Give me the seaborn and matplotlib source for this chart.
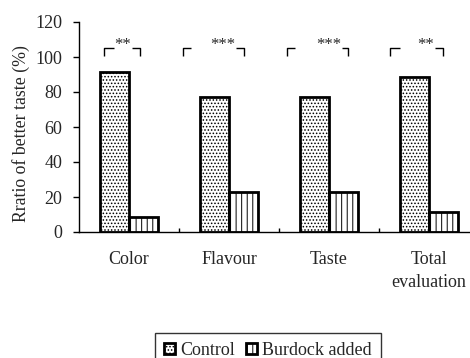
import matplotlib
matplotlib.use("Agg")
import matplotlib.pyplot as plt
import seaborn as sns
import pandas as pd
from matplotlib.patches import Patch

categories = ["Color", "Flavour", "Taste", "Total\nevaluation"]
groups = ["Control", "Burdock added"]
control = [91.5, 77, 77, 88.8]
burdock = [8.8, 23, 23, 11.4]
stars = ["**", "***", "***", "**"]
yticks = [0, 20, 40, 60, 80, 100, 120]
ylabel = "Rratio of better taste (%)"

# bracket layout (offsets from category centre, in category units)
br_left = [-0.25, -0.46, -0.42, -0.39]
br_left_end = [-0.15, -0.38, -0.34, -0.29]
br_star = [-0.06, -0.065, -0.005, -0.03]
br_right_start = [0.03, 0.07, 0.13, 0.06]
br_right = [0.11, 0.15, 0.19, 0.14]
br_top, br_bottom = 105, 100.5

FS = 13

sns.set_theme(style="white")
plt.rcParams["font.family"] = ["Liberation Serif", "DejaVu Serif"]
plt.rcParams["hatch.linewidth"] = 0.7

df = pd.DataFrame({
    "cat": categories * 2,
    "group": [groups[0]] * 4 + [groups[1]] * 4,
    "val": control + burdock,
})

fig = plt.figure(figsize=(4.7, 3.58), dpi=100)
ax = fig.add_axes([79 / 470, 1 - 232 / 358, 1 - 79 / 470, (232 - 22) / 358])

sns.barplot(data=df, x="cat", y="val", hue="group", palette=["white", "white"],
            edgecolor="black", linewidth=2.0, width=0.58, gap=0, ax=ax,
            legend=False, saturation=1)

hatches = {groups[0]: ".....", groups[1]: "|||"}
for cont, g in zip(ax.containers, groups):
    for bar in cont:
        bar.set_hatch(hatches[g])

ax.set_ylim(0, 120)
ax.set_yticks(yticks)
ax.set_xlim(-0.5, 3.41)
ax.set_xticks([0.5, 1.5, 2.5], minor=True)
ax.set_xticks(range(len(categories)))
ax.set_xticklabels(categories, fontsize=FS, linespacing=1.45)
ax.tick_params(axis="x", which="major", length=0, pad=14)
ax.tick_params(axis="x", which="minor", direction="in", length=3, width=1, color="black", bottom=True)
ax.tick_params(axis="y", direction="out", length=4, width=1, color="black", labelsize=FS, pad=8, left=True)
ax.set_xlabel("")
ax.set_ylabel(ylabel, fontsize=12.8)
ax.yaxis.set_label_coords(-(79 - 30) / 391, 0.47)
for s in ["top", "right"]:
    ax.spines[s].set_visible(False)
for s in ["left", "bottom"]:
    ax.spines[s].set_color("black")
    ax.spines[s].set_linewidth(1)

for i in range(len(categories)):
    kw = dict(color="black", lw=1, solid_capstyle="butt")
    ax.plot([i + br_left[i], i + br_left[i], i + br_left_end[i]], [br_bottom, br_top, br_top], **kw)
    ax.plot([i + br_right_start[i], i + br_right[i], i + br_right[i]], [br_top, br_top, br_bottom], **kw)
    ax.text(i + br_star[i], br_top - 2.5, stars[i], ha="center", va="bottom", fontsize=FS - 1)

handles = [Patch(facecolor="white", edgecolor="black", hatch=hatches[g], lw=2, label=g) for g in groups]
leg = fig.legend(handles=handles, loc="upper left", bbox_to_anchor=(155 / 470, 1 - 333 / 358), ncol=2,
                 frameon=True, fancybox=False, edgecolor="black", fontsize=FS,
                 handlelength=0.6, handleheight=0.6, handletextpad=0.3, columnspacing=0.6,
                 borderpad=0.5, borderaxespad=0)
leg.get_frame().set_linewidth(1)

fig.savefig("out.png", dpi=100, facecolor="white")
